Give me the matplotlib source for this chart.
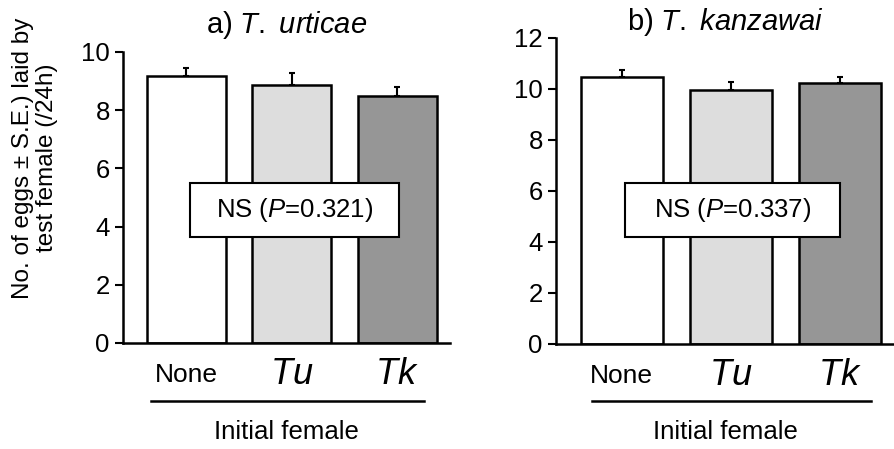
import matplotlib
matplotlib.use("Agg")
import matplotlib.pyplot as plt
import numpy as np

plt.rcParams.update({
    "font.family": ["Liberation Sans", "DejaVu Sans"],
    "mathtext.fontset": "custom",
    "mathtext.rm": "Liberation Sans",
    "mathtext.it": "Liberation Sans:italic",
    "font.size": 18,
})

categories = ["None", "Tu", "Tk"]
colors = ["white", "#dddddd", "#969696"]

# panel a) T. urticae
means_a = [9.17, 8.85, 8.49]
se_a = [0.29, 0.42, 0.30]
p_a = "0.321"

# panel b) T. kanzawai
means_b = [10.45, 9.96, 10.22]
se_b = [0.29, 0.30, 0.26]
p_b = "0.337"

fig = plt.figure(figsize=(8.95, 4.49), dpi=100)
ax1 = fig.add_axes([0.1374, 0.2361, 0.3654, 0.6481])
ax2 = fig.add_axes([0.6212, 0.2339, 0.3788, 0.6821])

x = np.arange(len(categories))


def draw_panel(ax, means, se, pval, title, ymax, title_pad, box, ylines):
    ax.bar(x, means, width=0.75, color=colors, edgecolor="black", linewidth=1.8, zorder=2)
    ax.errorbar(x, means, yerr=[np.zeros(len(se)), se], fmt="none",
                ecolor="black", elinewidth=1.5, capsize=2, capthick=1.5, zorder=1)
    ax.set_xlim(-0.6, 2.5)
    ax.set_ylim(0, ymax)
    ax.set_yticks(np.arange(0, ymax + 1, 2))
    ax.spines["top"].set_visible(False)
    ax.spines["right"].set_visible(False)
    ax.spines["left"].set_linewidth(1.8)
    ax.spines["bottom"].set_linewidth(1.8)
    ax.tick_params(axis="y", direction="out", length=6, width=1.5, labelsize=18.5)
    ax.set_xticks(x)
    ax.set_xticklabels(["None", "$\\it{Tu}$", "$\\it{Tk}$"])
    labs = ax.get_xticklabels()
    labs[0].set_fontsize(19)
    labs[1].set_fontsize(26)
    labs[2].set_fontsize(26)
    for lab in labs:
        lab.set_va("center")
    ax.tick_params(axis="x", length=0, pad=23)

    ax.set_title(title, fontsize=21, pad=title_pad)

    # line under category labels
    tr = ax.get_xaxis_transform()
    ax.plot([box[4], box[5]], [ylines[0], ylines[0]], color="black", lw=1.8,
            transform=tr, clip_on=False)
    ax.text(0.95, ylines[1], "Initial female", transform=tr, ha="center",
            va="center", fontsize=18.5)

    # NS box
    bx0, bx1, by0, by1 = box[:4]
    ax.add_patch(plt.Rectangle((bx0, by0), bx1 - bx0, by1 - by0,
                               facecolor="white", edgecolor="black", lw=1.5, zorder=3))
    ax.text((bx0 + bx1) / 2, (by0 + by1) / 2, "NS ($\\it{P}$=" + pval + ")",
            ha="center", va="center", fontsize=18.5, zorder=4)


draw_panel(ax1, means_a, se_a, p_a, "a) $\\it{T.}$ $\\it{urticae}$", 10, 14,
           (0.04, 2.02, 3.64, 5.5, -0.33, 2.25), (-0.199, -0.305))
draw_panel(ax2, means_b, se_b, p_b, "b) $\\it{T.}$ $\\it{kanzawai}$", 12, 3,
           (0.03, 2.0, 4.2, 6.31, -0.27, 2.28), (-0.186, -0.288))

ax1.text(-0.27, 0.636, "No. of eggs \u00b1 S.E.) laid by\ntest female (/24h)",
         transform=ax1.transAxes, rotation=90, ha="center", va="center",
         fontsize=17.5, linespacing=1.1)

fig.savefig("out.png", dpi=100)
